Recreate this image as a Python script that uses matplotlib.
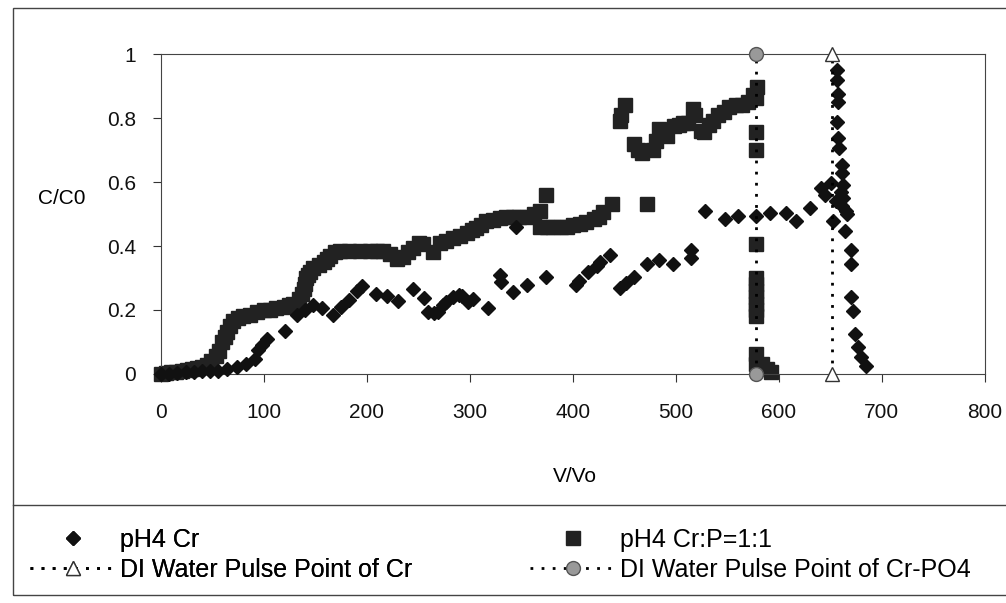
import matplotlib
matplotlib.use("Agg")
import matplotlib.pyplot as plt
from matplotlib.patches import Rectangle
from matplotlib.lines import Line2D

# 数据
cr_x = [0, 8, 16, 24, 32, 40, 48, 55, 64, 74,
        83, 91, 94, 98, 103, 120, 132, 140, 148, 156,
        167, 175, 183, 190, 195, 209, 219, 230, 245, 255,
        259, 265, 269, 274, 277, 284, 289, 292, 298, 303,
        318, 329, 330, 342, 345, 355, 374, 403, 406, 415,
        423, 426, 436, 446, 452, 459, 472, 484, 497, 515,
        515, 528, 548, 560, 578, 591, 607, 617, 630, 641,
        651, 653, 645, 655, 660, 665, 666, 656, 656, 657,
        657, 656, 657, 658, 661, 661, 662, 662, 661, 664,
        670, 670, 670, 672, 674, 677, 680, 685]
cr_y = [0.0, 0.0, 0.003, 0.005, 0.006, 0.008, 0.01, 0.01, 0.015, 0.02,
        0.03, 0.045, 0.075, 0.09, 0.11, 0.135, 0.183, 0.199, 0.215, 0.205,
        0.184, 0.21, 0.231, 0.258, 0.274, 0.249, 0.244, 0.229, 0.266, 0.236,
        0.195, 0.19, 0.195, 0.214, 0.226, 0.24, 0.248, 0.245, 0.225, 0.233,
        0.207, 0.308, 0.287, 0.256, 0.46, 0.277, 0.304, 0.278, 0.29, 0.32,
        0.336, 0.351, 0.372, 0.27, 0.285, 0.302, 0.345, 0.355, 0.345, 0.361,
        0.388, 0.51, 0.483, 0.493, 0.493, 0.504, 0.504, 0.478, 0.519, 0.582,
        0.597, 0.478, 0.56, 0.54, 0.57, 0.51, 0.50, 0.95, 0.92, 0.877,
        0.851, 0.789, 0.737, 0.706, 0.654, 0.63, 0.59, 0.55, 0.524, 0.446,
        0.389, 0.343, 0.239, 0.197, 0.125, 0.083, 0.052, 0.026]

crp_x = [0, 5, 10, 15, 20, 25, 30, 35, 40, 45,
         49, 53, 56, 59, 62, 64, 67, 70, 75, 80,
         86, 93, 100, 106, 112, 119, 124, 128, 134, 137,
         139, 140, 141, 143, 145, 148, 153, 158, 161, 164,
         169, 174, 183, 193, 203, 210, 216, 222, 229, 235,
         240, 245, 251, 254, 264, 271, 277, 284, 290, 297,
         302, 306, 311, 316, 322, 329, 335, 342, 348, 355,
         362, 368, 368, 374, 375, 381, 388, 394, 400, 407,
         413, 420, 425, 429, 438, 446, 447, 451, 459, 463,
         467, 472, 478, 481, 484, 491, 498, 503, 507, 512,
         517, 519, 524, 527, 532, 536, 541, 547, 552, 558,
         564, 570, 575, 579, 578, 578, 578, 578, 578, 578,
         578, 578, 578, 578, 578, 578, 578, 584, 588, 592]
crp_y = [0.0, 0.003, 0.005, 0.007, 0.01, 0.012, 0.014, 0.017, 0.02, 0.027,
         0.04, 0.055, 0.07, 0.10, 0.115, 0.13, 0.15, 0.165, 0.175, 0.18,
         0.185, 0.195, 0.2, 0.2, 0.205, 0.21, 0.215, 0.22, 0.235, 0.25,
         0.265, 0.28, 0.30, 0.31, 0.32, 0.33, 0.34, 0.35, 0.36, 0.37,
         0.38, 0.385, 0.385, 0.385, 0.385, 0.385, 0.385, 0.375, 0.36, 0.365,
         0.38, 0.395, 0.41, 0.405, 0.38, 0.41, 0.415, 0.425, 0.43, 0.44,
         0.45, 0.456, 0.465, 0.477, 0.48, 0.487, 0.49, 0.49, 0.49, 0.49,
         0.5, 0.51, 0.46, 0.56, 0.46, 0.46, 0.46, 0.46, 0.465, 0.47,
         0.475, 0.485, 0.49, 0.505, 0.53, 0.79, 0.81, 0.84, 0.72, 0.70,
         0.69, 0.53, 0.70, 0.73, 0.765, 0.745, 0.775, 0.78, 0.785, 0.785,
         0.83, 0.81, 0.76, 0.757, 0.78, 0.79, 0.81, 0.82, 0.836, 0.84,
         0.84, 0.85, 0.872, 0.898, 0.862, 0.758, 0.70, 0.405, 0.30, 0.28,
         0.26, 0.24, 0.22, 0.20, 0.18, 0.062, 0.031, 0.03, 0.016, 0.005]

# DI 水脉冲点
pulse_cr_x = [652, 652]
pulse_cr_y = [0, 1]
pulse_crpo4_x = [578, 578]
pulse_crpo4_y = [0, 1]

labels = ["pH4 Cr", "pH4 Cr:P=1:1", "DI Water Pulse Point of Cr",
          "DI Water Pulse Point of Cr-PO4"]
x_ticks = [0, 100, 200, 300, 400, 500, 600, 700, 800]
y_ticks = [0, 0.2, 0.4, 0.6, 0.8, 1]
y_ticklabels = ["0", "0.2", "0.4", "0.6", "0.8", "1"]

plt.rcParams['font.family'] = ['Liberation Sans', 'DejaVu Sans']

fig = plt.figure(figsize=(10.06, 6.03), dpi=100)
ax = fig.add_axes([0.160, 0.380, 0.819, 0.530])

l_cr, = ax.plot(cr_x, cr_y, linestyle='none', marker='D', markersize=7.5,
                color='#111111', clip_on=False, zorder=3)
l_crp, = ax.plot(crp_x, crp_y, linestyle='none', marker='s', markersize=10,
                 color='#222222', clip_on=False, zorder=2)
l_p1, = ax.plot(pulse_cr_x, pulse_cr_y, linestyle=(0, (1, 3)), linewidth=2,
                color='black', marker='^', markersize=10, markerfacecolor='white',
                markeredgecolor='#333333', clip_on=False, zorder=4)
l_p2, = ax.plot(pulse_crpo4_x, pulse_crpo4_y, linestyle=(0, (1, 3)), linewidth=2,
                color='black', marker='o', markersize=10, markerfacecolor='#999999',
                markeredgecolor='#555555', clip_on=False, zorder=4)

ax.set_xlim(0, 800)
ax.set_ylim(0, 1)
ax.set_xticks(x_ticks)
ax.set_yticks(y_ticks)
ax.set_yticklabels(y_ticklabels)
ax.tick_params(axis='x', direction='out', length=6, width=0.8, pad=15,
               labelsize=15, colors='#333333', labelcolor='#111111')
ax.tick_params(axis='y', direction='out', length=6, width=0.8, pad=12,
               labelsize=15, colors='#333333', labelcolor='#111111')
for s in ax.spines.values():
    s.set_linewidth(0.8)
    s.set_color('#444444')

ax.set_xlabel("V/Vo", fontsize=15)
ax.xaxis.set_label_coords(0.502, -0.29)
ax.set_ylabel("C/C0", fontsize=15, rotation=0, ha='center', va='center')
ax.yaxis.set_label_coords(-0.12, 0.55)

# 外框和分隔线
fig.add_artist(Rectangle((13 / 1006, 0.013), 1.0, 0.974, transform=fig.transFigure,
                         fill=False, linewidth=1, edgecolor='#444444'))
fig.add_artist(Line2D([13 / 1006, 1.0], [1 - 505 / 603] * 2,
                      transform=fig.transFigure, linewidth=1, color='#444444'))

leg_font = {'size': 18}
leg1 = fig.legend([l_cr, l_p1], [labels[0], labels[2]], loc='upper left',
                  bbox_to_anchor=(0.03, 0.125), frameon=False, prop=leg_font,
                  numpoints=1, handlelength=3.4, handletextpad=0.2,
                  labelspacing=0.25, borderpad=0, borderaxespad=0)
leg2 = fig.legend([l_crp, l_p2], [labels[1], labels[3]], loc='upper left',
                  bbox_to_anchor=(0.527, 0.125), frameon=False, prop=leg_font,
                  numpoints=1, handlelength=3.4, handletextpad=0.2,
                  labelspacing=0.25, borderpad=0, borderaxespad=0)
fig.add_artist(leg1)

fig.savefig("out.png", dpi=100)
